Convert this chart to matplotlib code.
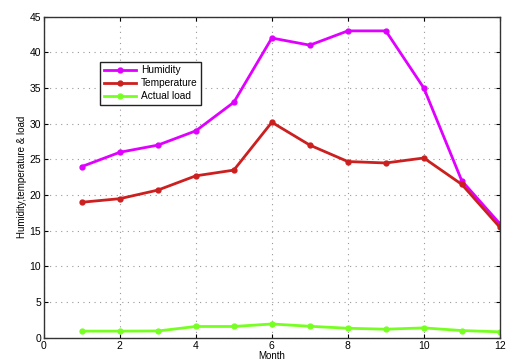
import matplotlib
matplotlib.use("Agg")
import matplotlib.pyplot as plt

plt.rcParams['font.family'] = ['Liberation Sans', 'DejaVu Sans']

months = [1, 2, 3, 4, 5, 6, 7, 8, 9, 10, 11, 12]
humidity = [24, 26, 27, 29, 33, 42, 41, 43, 43, 35, 22, 16]
temperature = [19.0, 19.5, 20.7, 22.7, 23.5, 30.2, 27.0, 24.7, 24.5, 25.2, 21.5, 15.5]
actual_load = [0.95, 0.95, 0.97, 1.6, 1.6, 1.95, 1.63, 1.35, 1.22, 1.4, 1.03, 0.85]

xticks = [0, 2, 4, 6, 8, 10, 12]
yticks = [0, 5, 10, 15, 20, 25, 30, 35, 40, 45]

fig = plt.figure(figsize=(5.10, 3.61), dpi=100)
ax = fig.add_axes([0.086, 0.064, 0.894, 0.890])

ax.plot(months, humidity, color='#e000ff', lw=2, marker='o', ms=3.5, label='Humidity')
ax.plot(months, temperature, color='#cc1f1f', lw=2, marker='o', ms=3.5, label='Temperature')
ax.plot(months, actual_load, color='#77ff22', lw=2, marker='o', ms=3.5, label='Actual load')

ax.set_xlim(0, 12)
ax.set_ylim(0, 45)
ax.set_xticks(xticks)
ax.set_yticks(yticks)
ax.tick_params(direction='in', top=True, right=True, labelsize=7.5, length=3, width=0.8, pad=2)
ax.grid(True, linestyle=(0, (1, 4)), color='#999999', linewidth=0.8)
for s in ax.spines.values():
    s.set_color('#333333')
    s.set_linewidth(1.0)

ax.set_xlabel('Month', fontsize=7, labelpad=0)
ax.set_ylabel('Humidity,temperature & load', fontsize=7, labelpad=2)

leg = ax.legend(loc='upper left', bbox_to_anchor=(0.112, 0.875), fontsize=7.3,
                fancybox=False, framealpha=1, edgecolor='#222222',
                handlelength=3.2, borderpad=0.35, labelspacing=0.3, handletextpad=0.5)
leg.get_frame().set_linewidth(1.0)

fig.savefig('out.png', dpi=100)
